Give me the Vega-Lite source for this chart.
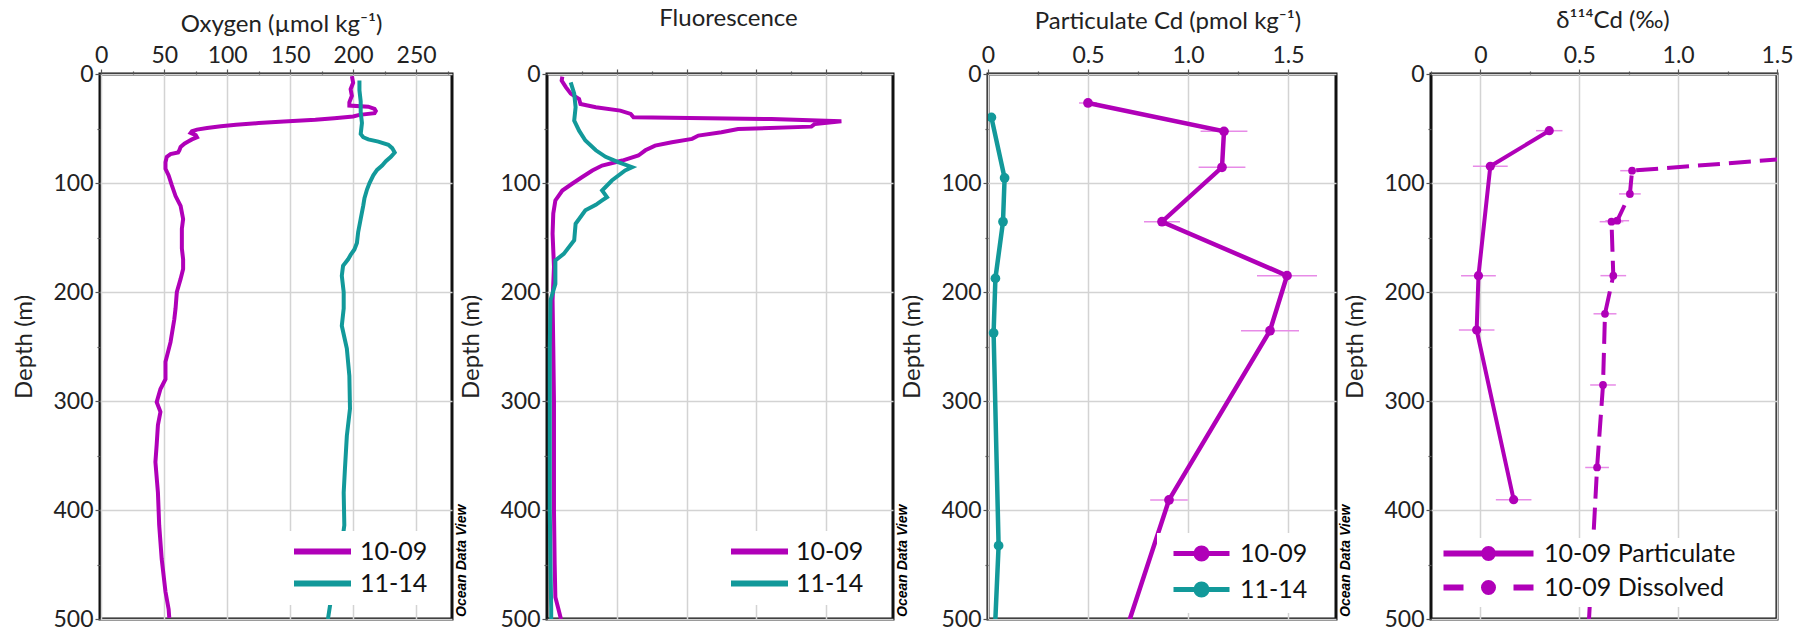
{
  "$schema": "https://vega.github.io/schema/vega-lite/v6.json",
  "background": "white",
  "padding": {"left": 11, "top": 4, "right": 0, "bottom": 0},
  "datasets": {
    "oxy": [
      {"cast": "10-09", "depth": 2, "o2": 199}, {"cast": "10-09", "depth": 8, "o2": 200}, {"cast": "10-09", "depth": 14, "o2": 198}, {"cast": "10-09", "depth": 20, "o2": 199}, {"cast": "10-09", "depth": 26, "o2": 197}, {"cast": "10-09", "depth": 29, "o2": 197}, {"cast": "10-09", "depth": 30, "o2": 212}, {"cast": "10-09", "depth": 32, "o2": 217}, {"cast": "10-09", "depth": 34, "o2": 218}, {"cast": "10-09", "depth": 36, "o2": 217}, {"cast": "10-09", "depth": 37.5, "o2": 205}, {"cast": "10-09", "depth": 39, "o2": 200}, {"cast": "10-09", "depth": 40.5, "o2": 185}, {"cast": "10-09", "depth": 42, "o2": 170}, {"cast": "10-09", "depth": 43.5, "o2": 145}, {"cast": "10-09", "depth": 45, "o2": 125}, {"cast": "10-09", "depth": 46.5, "o2": 107}, {"cast": "10-09", "depth": 48, "o2": 95}, {"cast": "10-09", "depth": 49.5, "o2": 84}, {"cast": "10-09", "depth": 51, "o2": 76}, {"cast": "10-09", "depth": 52.5, "o2": 72}, {"cast": "10-09", "depth": 54, "o2": 71}, {"cast": "10-09", "depth": 56, "o2": 75}, {"cast": "10-09", "depth": 58, "o2": 76}, {"cast": "10-09", "depth": 60, "o2": 72}, {"cast": "10-09", "depth": 62, "o2": 69}, {"cast": "10-09", "depth": 64, "o2": 66}, {"cast": "10-09", "depth": 67, "o2": 63}, {"cast": "10-09", "depth": 70, "o2": 62}, {"cast": "10-09", "depth": 72, "o2": 61}, {"cast": "10-09", "depth": 73.5, "o2": 55}, {"cast": "10-09", "depth": 76, "o2": 52}, {"cast": "10-09", "depth": 81, "o2": 51}, {"cast": "10-09", "depth": 87, "o2": 51}, {"cast": "10-09", "depth": 93, "o2": 53.5}, {"cast": "10-09", "depth": 102, "o2": 56}, {"cast": "10-09", "depth": 112, "o2": 59}, {"cast": "10-09", "depth": 121, "o2": 63}, {"cast": "10-09", "depth": 133, "o2": 65}, {"cast": "10-09", "depth": 142, "o2": 64}, {"cast": "10-09", "depth": 150, "o2": 64}, {"cast": "10-09", "depth": 160, "o2": 64}, {"cast": "10-09", "depth": 170, "o2": 65}, {"cast": "10-09", "depth": 179, "o2": 65}, {"cast": "10-09", "depth": 188, "o2": 63}, {"cast": "10-09", "depth": 200, "o2": 60}, {"cast": "10-09", "depth": 215, "o2": 59}, {"cast": "10-09", "depth": 225, "o2": 58}, {"cast": "10-09", "depth": 246, "o2": 55}, {"cast": "10-09", "depth": 264, "o2": 51}, {"cast": "10-09", "depth": 280, "o2": 51}, {"cast": "10-09", "depth": 289, "o2": 47}, {"cast": "10-09", "depth": 301, "o2": 44}, {"cast": "10-09", "depth": 310, "o2": 47}, {"cast": "10-09", "depth": 322, "o2": 45}, {"cast": "10-09", "depth": 340, "o2": 44}, {"cast": "10-09", "depth": 356, "o2": 43}, {"cast": "10-09", "depth": 384, "o2": 45}, {"cast": "10-09", "depth": 414, "o2": 46}, {"cast": "10-09", "depth": 445, "o2": 48}, {"cast": "10-09", "depth": 475, "o2": 51}, {"cast": "10-09", "depth": 491, "o2": 53.5}, {"cast": "10-09", "depth": 499, "o2": 54},
      {"cast": "11-14", "depth": 6, "o2": 205}, {"cast": "11-14", "depth": 15, "o2": 205}, {"cast": "11-14", "depth": 25, "o2": 206}, {"cast": "11-14", "depth": 35, "o2": 206}, {"cast": "11-14", "depth": 45, "o2": 207}, {"cast": "11-14", "depth": 55, "o2": 206}, {"cast": "11-14", "depth": 58, "o2": 208}, {"cast": "11-14", "depth": 60, "o2": 212}, {"cast": "11-14", "depth": 62, "o2": 220}, {"cast": "11-14", "depth": 65, "o2": 228}, {"cast": "11-14", "depth": 68, "o2": 231}, {"cast": "11-14", "depth": 72, "o2": 233}, {"cast": "11-14", "depth": 76, "o2": 230}, {"cast": "11-14", "depth": 80, "o2": 226}, {"cast": "11-14", "depth": 84, "o2": 223}, {"cast": "11-14", "depth": 88, "o2": 219}, {"cast": "11-14", "depth": 93, "o2": 216}, {"cast": "11-14", "depth": 100, "o2": 213}, {"cast": "11-14", "depth": 106, "o2": 211}, {"cast": "11-14", "depth": 114, "o2": 209}, {"cast": "11-14", "depth": 121, "o2": 208}, {"cast": "11-14", "depth": 133, "o2": 206}, {"cast": "11-14", "depth": 145, "o2": 204}, {"cast": "11-14", "depth": 155, "o2": 203}, {"cast": "11-14", "depth": 161, "o2": 201}, {"cast": "11-14", "depth": 166, "o2": 198}, {"cast": "11-14", "depth": 170, "o2": 196}, {"cast": "11-14", "depth": 176, "o2": 192}, {"cast": "11-14", "depth": 185, "o2": 191}, {"cast": "11-14", "depth": 200, "o2": 192.5}, {"cast": "11-14", "depth": 215, "o2": 192.5}, {"cast": "11-14", "depth": 231, "o2": 191}, {"cast": "11-14", "depth": 252, "o2": 195}, {"cast": "11-14", "depth": 277, "o2": 197}, {"cast": "11-14", "depth": 307, "o2": 197.5}, {"cast": "11-14", "depth": 332, "o2": 195}, {"cast": "11-14", "depth": 362, "o2": 193.5}, {"cast": "11-14", "depth": 384, "o2": 192.5}, {"cast": "11-14", "depth": 414, "o2": 193}, {"cast": "11-14", "depth": 440, "o2": 190}, {"cast": "11-14", "depth": 465, "o2": 186}, {"cast": "11-14", "depth": 485, "o2": 182}, {"cast": "11-14", "depth": 500, "o2": 180}
    ],
    "fluo": [
      {"cast": "10-09", "depth": 2.5, "fl": 0.22}, {"cast": "10-09", "depth": 6, "fl": 0.21}, {"cast": "10-09", "depth": 12, "fl": 0.27}, {"cast": "10-09", "depth": 18, "fl": 0.34}, {"cast": "10-09", "depth": 23, "fl": 0.46}, {"cast": "10-09", "depth": 27.5, "fl": 0.48}, {"cast": "10-09", "depth": 30.5, "fl": 0.7}, {"cast": "10-09", "depth": 33.6, "fl": 1.05}, {"cast": "10-09", "depth": 36.6, "fl": 1.2}, {"cast": "10-09", "depth": 39.7, "fl": 1.24}, {"cast": "10-09", "depth": 41.3, "fl": 3.22}, {"cast": "10-09", "depth": 43.4, "fl": 4.22}, {"cast": "10-09", "depth": 45.8, "fl": 3.84}, {"cast": "10-09", "depth": 48.3, "fl": 3.79}, {"cast": "10-09", "depth": 50.5, "fl": 2.74}, {"cast": "10-09", "depth": 53.5, "fl": 2.5}, {"cast": "10-09", "depth": 56.5, "fl": 2.17}, {"cast": "10-09", "depth": 59.5, "fl": 2.08}, {"cast": "10-09", "depth": 62.6, "fl": 1.79}, {"cast": "10-09", "depth": 65.7, "fl": 1.55}, {"cast": "10-09", "depth": 70, "fl": 1.41}, {"cast": "10-09", "depth": 74.8, "fl": 1.31}, {"cast": "10-09", "depth": 79.4, "fl": 1.08}, {"cast": "10-09", "depth": 84, "fl": 0.79}, {"cast": "10-09", "depth": 88.5, "fl": 0.65}, {"cast": "10-09", "depth": 94.7, "fl": 0.5}, {"cast": "10-09", "depth": 100.7, "fl": 0.36}, {"cast": "10-09", "depth": 106.9, "fl": 0.22}, {"cast": "10-09", "depth": 116, "fl": 0.12}, {"cast": "10-09", "depth": 128, "fl": 0.09}, {"cast": "10-09", "depth": 146.5, "fl": 0.08}, {"cast": "10-09", "depth": 177, "fl": 0.1}, {"cast": "10-09", "depth": 207.6, "fl": 0.08}, {"cast": "10-09", "depth": 250, "fl": 0.09}, {"cast": "10-09", "depth": 300, "fl": 0.1}, {"cast": "10-09", "depth": 350, "fl": 0.1}, {"cast": "10-09", "depth": 400, "fl": 0.1}, {"cast": "10-09", "depth": 450, "fl": 0.11}, {"cast": "10-09", "depth": 480, "fl": 0.12}, {"cast": "10-09", "depth": 490, "fl": 0.16}, {"cast": "10-09", "depth": 500, "fl": 0.2},
      {"cast": "11-14", "depth": 7.7, "fl": 0.34}, {"cast": "11-14", "depth": 18, "fl": 0.39}, {"cast": "11-14", "depth": 30.5, "fl": 0.41}, {"cast": "11-14", "depth": 42.7, "fl": 0.39}, {"cast": "11-14", "depth": 52, "fl": 0.46}, {"cast": "11-14", "depth": 61, "fl": 0.55}, {"cast": "11-14", "depth": 70, "fl": 0.7}, {"cast": "11-14", "depth": 76, "fl": 0.84}, {"cast": "11-14", "depth": 81, "fl": 1.03}, {"cast": "11-14", "depth": 85.5, "fl": 1.22}, {"cast": "11-14", "depth": 88.5, "fl": 1.12}, {"cast": "11-14", "depth": 97.7, "fl": 0.93}, {"cast": "11-14", "depth": 106.9, "fl": 0.79}, {"cast": "11-14", "depth": 113, "fl": 0.86}, {"cast": "11-14", "depth": 116, "fl": 0.79}, {"cast": "11-14", "depth": 120, "fl": 0.7}, {"cast": "11-14", "depth": 125, "fl": 0.55}, {"cast": "11-14", "depth": 137.4, "fl": 0.41}, {"cast": "11-14", "depth": 152.6, "fl": 0.39}, {"cast": "11-14", "depth": 165, "fl": 0.24}, {"cast": "11-14", "depth": 171, "fl": 0.12}, {"cast": "11-14", "depth": 192.6, "fl": 0.12}, {"cast": "11-14", "depth": 207.6, "fl": 0.05}, {"cast": "11-14", "depth": 250, "fl": 0.04}, {"cast": "11-14", "depth": 300, "fl": 0.04}, {"cast": "11-14", "depth": 400, "fl": 0.04}, {"cast": "11-14", "depth": 450, "fl": 0.05}, {"cast": "11-14", "depth": 490, "fl": 0.06}, {"cast": "11-14", "depth": 500, "fl": 0.06}
    ],
    "pcd": [
      {"cast": "10-09", "depth": 26.6, "val": 0.5, "err": 0.045}, {"cast": "10-09", "depth": 52.6, "val": 1.18, "err": 0.117}, {"cast": "10-09", "depth": 85.6, "val": 1.17, "err": 0.117}, {"cast": "10-09", "depth": 135.5, "val": 0.87, "err": 0.09}, {"cast": "10-09", "depth": 185, "val": 1.495, "err": 0.15}, {"cast": "10-09", "depth": 235.5, "val": 1.41, "err": 0.145}, {"cast": "10-09", "depth": 390.8, "val": 0.905, "err": 0.094}, {"cast": "10-09", "depth": 600, "val": 0.53, "err": null},
      {"cast": "11-14", "depth": 39.8, "val": 0.017, "err": null}, {"cast": "11-14", "depth": 95.4, "val": 0.083, "err": null}, {"cast": "11-14", "depth": 135.5, "val": 0.075, "err": null}, {"cast": "11-14", "depth": 187.5, "val": 0.037, "err": null}, {"cast": "11-14", "depth": 237.6, "val": 0.028, "err": null}, {"cast": "11-14", "depth": 432.7, "val": 0.053, "err": null}, {"cast": "11-14", "depth": 600, "val": 0.013, "err": null}
    ],
    "dcd": [
      {"series": "10-09 Particulate", "depth": 52, "val": 0.348, "err": 0.067}, {"series": "10-09 Particulate", "depth": 84.7, "val": 0.05, "err": 0.088}, {"series": "10-09 Particulate", "depth": 185, "val": -0.01, "err": 0.088}, {"series": "10-09 Particulate", "depth": 234.9, "val": -0.019, "err": 0.09}, {"series": "10-09 Particulate", "depth": 390.5, "val": 0.168, "err": 0.09},
      {"series": "10-09 Dissolved", "depth": 52, "val": 3.4, "err": null}, {"series": "10-09 Dissolved", "depth": 88.7, "val": 0.767, "err": 0.06}, {"series": "10-09 Dissolved", "depth": 110, "val": 0.756, "err": 0.055}, {"series": "10-09 Dissolved", "depth": 134.6, "val": 0.692, "err": 0.06}, {"series": "10-09 Dissolved", "depth": 135.5, "val": 0.663, "err": 0.06}, {"series": "10-09 Dissolved", "depth": 185, "val": 0.672, "err": 0.065}, {"series": "10-09 Dissolved", "depth": 220, "val": 0.63, "err": 0.058}, {"series": "10-09 Dissolved", "depth": 285.3, "val": 0.62, "err": 0.065}, {"series": "10-09 Dissolved", "depth": 361, "val": 0.59, "err": 0.06}, {"series": "10-09 Dissolved", "depth": 600, "val": 0.52, "err": null}
    ]
  },
  "bounds": "flush",
  "spacing": 95,
  "resolve": {"scale": {"color": "independent", "x": "independent", "y": "independent"}, "legend": {"color": "independent"}},
  "hconcat": [
    {
      "width": 352, "height": 545,
      "data": {"name": "oxy"},
      "title": {"text": "Ocean Data View", "orient": "right", "anchor": "end", "angle": 270, "align": "left", "baseline": "top", "fontSize": 14, "font": "Liberation Sans", "fontStyle": "italic", "fontWeight": "bold", "color": "black", "offset": 0, "dx": 14, "dy": -11},
      "mark": {"type": "line", "strokeWidth": 4, "clip": true},
      "encoding": {
        "x": {"field": "o2", "type": "quantitative", "scale": {"domain": [-1, 278.5], "nice": false, "zero": false},
          "axis": {"orient": "top", "values": [0, 25, 50, 75, 100, 125, 150, 175, 200, 225, 250, 275],
            "labelExpr": "datum.value % 50 === 0 ? datum.label : ''",
            "tickSize": {"condition": {"test": "datum.value % 50 === 0", "value": 5}, "value": 3},
            "gridOpacity": {"condition": {"test": "datum.value % 50 === 0", "value": 1}, "value": 0},
            "title": "Oxygen (µmol kg⁻¹)", "titleX": 181, "titleY": -43, "titleBaseline": "alphabetic", "titleAlign": "center"}},
        "y": {"field": "depth", "type": "quantitative", "scale": {"domain": [0, 500], "reverse": true, "nice": false, "zero": false},
          "axis": {"values": [0, 50, 100, 150, 200, 250, 300, 350, 400, 450, 500], "labelExpr": "datum.value % 100 === 0 ? datum.label : ''",
            "tickSize": {"condition": {"test": "datum.value % 100 === 0", "value": 5}, "value": 3},
            "gridOpacity": {"condition": {"test": "datum.value % 100 === 0", "value": 1}, "value": 0},
            "title": "Depth (m)", "titleFontSize": 24, "titlePadding": 16}},
        "color": {"field": "cast", "type": "nominal", "scale": {"domain": ["10-09", "11-14"], "range": ["#b000b8", "#12999a"]},
          "legend": {"orient": "none", "legendX": 178, "legendY": 457, "rowPadding": 6, "symbolType": "M-5.7,0L5.7,0", "symbolStrokeWidth": 6, "symbolOffset": 24, "labelOffset": 25,
            "encode": {"symbols": {"update": {"stroke": {"signal": "datum.value === '10-09' ? '#9b42b8' : '#4f9bb3'"}}}}}},
        "order": {"field": "depth", "type": "quantitative"}
      }
    },
    {
      "width": 346, "height": 545,
      "data": {"name": "fluo"},
      "title": {"text": "Ocean Data View", "orient": "right", "anchor": "end", "angle": 270, "align": "left", "baseline": "top", "fontSize": 14, "font": "Liberation Sans", "fontStyle": "italic", "fontWeight": "bold", "color": "black", "offset": 0, "dx": 14, "dy": -11},
      "mark": {"type": "line", "strokeWidth": 4, "clip": true},
      "encoding": {
        "x": {"field": "fl", "type": "quantitative", "scale": {"domain": [0, 4.96], "nice": false, "zero": false},
          "axis": {"orient": "top", "values": [0.5, 1, 1.5, 2, 2.5, 3, 3.5, 4, 4.5],
            "labelExpr": "''",
            "tickSize": {"condition": {"test": "datum.value % 1 === 0", "value": 5}, "value": 3},
            "gridOpacity": {"condition": {"test": "datum.value % 1 === 0", "value": 1}, "value": 0},
            "title": "Fluorescence", "titleX": 181, "titleY": -49, "titleBaseline": "alphabetic", "titleAlign": "center"}},
        "y": {"field": "depth", "type": "quantitative", "scale": {"domain": [0, 500], "reverse": true, "nice": false, "zero": false},
          "axis": {"values": [0, 50, 100, 150, 200, 250, 300, 350, 400, 450, 500], "labelExpr": "datum.value % 100 === 0 ? datum.label : ''",
            "tickSize": {"condition": {"test": "datum.value % 100 === 0", "value": 5}, "value": 3},
            "gridOpacity": {"condition": {"test": "datum.value % 100 === 0", "value": 1}, "value": 0},
            "title": "Depth (m)", "titleFontSize": 24, "titlePadding": 16}},
        "color": {"field": "cast", "type": "nominal", "scale": {"domain": ["10-09", "11-14"], "range": ["#b000b8", "#12999a"]},
          "legend": {"orient": "none", "legendX": 168, "legendY": 457, "rowPadding": 6, "symbolType": "M-5.7,0L5.7,0", "symbolStrokeWidth": 6, "symbolOffset": 24, "labelOffset": 24,
            "encode": {"symbols": {"update": {"stroke": {"signal": "datum.value === '10-09' ? '#9b42b8' : '#4f9bb3'"}}}}}},
        "order": {"field": "depth", "type": "quantitative"}
      }
    },
    {
      "width": 348, "height": 545,
      "data": {"name": "pcd"},
      "title": {"text": "Ocean Data View", "orient": "right", "anchor": "end", "angle": 270, "align": "left", "baseline": "top", "fontSize": 14, "font": "Liberation Sans", "fontStyle": "italic", "fontWeight": "bold", "color": "black", "offset": 0, "dx": 14, "dy": -11},
      "encoding": {
        "x": {"field": "val", "type": "quantitative", "scale": {"domain": [0, 1.74], "nice": false, "zero": false},
          "axis": {"orient": "top", "values": [0, 0.25, 0.5, 0.75, 1, 1.25, 1.5],
            "labelExpr": "datum.value === 0 ? '0' : (datum.value % 0.5 === 0 ? format(datum.value, '.1f') : '')",
            "tickSize": {"condition": {"test": "datum.value % 0.5 === 0", "value": 5}, "value": 3},
            "gridOpacity": {"condition": {"test": "datum.value % 0.5 === 0", "value": 1}, "value": 0},
            "title": "Particulate Cd (pmol kg⁻¹)", "titleX": 179.5, "titleY": -46, "titleBaseline": "alphabetic", "titleAlign": "center"}},
        "y": {"field": "depth", "type": "quantitative", "scale": {"domain": [0, 500], "reverse": true, "nice": false, "zero": false},
          "axis": {"values": [0, 50, 100, 150, 200, 250, 300, 350, 400, 450, 500], "labelExpr": "datum.value % 100 === 0 ? datum.label : ''",
            "tickSize": {"condition": {"test": "datum.value % 100 === 0", "value": 5}, "value": 3},
            "gridOpacity": {"condition": {"test": "datum.value % 100 === 0", "value": 1}, "value": 0},
            "title": "Depth (m)", "titleFontSize": 24, "titlePadding": 16}}
      },
      "layer": [
        {"transform": [{"filter": "isValid(datum.err)"}], "mark": {"type": "errorbar", "color": "#e78be7", "thickness": 1.5}, "encoding": {"xError": {"field": "err"}}},
        {"mark": {"type": "line", "strokeWidth": 4.5, "clip": true},
          "encoding": {
            "color": {"field": "cast", "type": "nominal", "scale": {"domain": ["10-09", "11-14"], "range": ["#b000b8", "#12999a"]},
              "legend": {"orient": "none", "legendX": 169, "legendY": 459, "rowPadding": 5, "symbolType": "M-5.6,0L5.6,0M-1.1,0A1.1,1.1,0,1,1,1.1,0A1.1,1.1,0,1,1,-1.1,0Z", "symbolStrokeWidth": 5, "symbolOffset": 24, "labelOffset": 26,
                "encode": {"symbols": {"update": {"stroke": {"signal": "datum.value === '10-09' ? '#9b42b8' : '#4f9bb3'"}, "fill": {"signal": "datum.value === '10-09' ? '#9b42b8' : '#4f9bb3'"}}}}}},
            "order": {"field": "depth", "type": "quantitative"}
          }},
        {"mark": {"type": "point", "filled": true, "opacity": 1, "size": 95, "clip": true},
          "encoding": {"color": {"field": "cast", "type": "nominal", "legend": null}}}
      ]
    },
    {
      "width": 346, "height": 545,
      "data": {"name": "dcd"},
      "title": {"text": "Ocean Data View", "orient": "right", "anchor": "end", "angle": 270, "align": "left", "baseline": "top", "fontSize": 14, "font": "Liberation Sans", "fontStyle": "italic", "fontWeight": "bold", "color": "black", "offset": 0, "dx": 14, "dy": -11},
      "encoding": {
        "x": {"field": "val", "type": "quantitative", "scale": {"domain": [-0.25, 1.5], "nice": false, "zero": false},
          "axis": {"orient": "top", "values": [-0.25, 0, 0.25, 0.5, 0.75, 1, 1.25, 1.5],
            "labelExpr": "datum.value === 0 ? '0' : (datum.value % 0.5 === 0 ? format(datum.value, '.1f') : '')",
            "tickSize": {"condition": {"test": "datum.value % 0.5 === 0", "value": 5}, "value": 3},
            "gridOpacity": {"condition": {"test": "datum.value % 0.5 === 0", "value": 1}, "value": 0},
            "title": "δ¹¹⁴Cd (‰)", "titleX": 181.5, "titleY": -47, "titleBaseline": "alphabetic", "titleAlign": "center"}},
        "y": {"field": "depth", "type": "quantitative", "scale": {"domain": [0, 500], "reverse": true, "nice": false, "zero": false},
          "axis": {"values": [0, 50, 100, 150, 200, 250, 300, 350, 400, 450, 500], "labelExpr": "datum.value % 100 === 0 ? datum.label : ''",
            "tickSize": {"condition": {"test": "datum.value % 100 === 0", "value": 5}, "value": 3},
            "gridOpacity": {"condition": {"test": "datum.value % 100 === 0", "value": 1}, "value": 0},
            "title": "Depth (m)", "titleFontSize": 24, "titlePadding": 16}}
      },
      "layer": [
        {"transform": [{"filter": "isValid(datum.err)"}], "mark": {"type": "errorbar", "color": "#e78be7", "thickness": 1.5}, "encoding": {"xError": {"field": "err"}}},
        {"transform": [{"filter": "datum.series === '10-09 Particulate'"}],
          "mark": {"type": "line", "strokeWidth": 4, "clip": true},
          "encoding": {
            "color": {"field": "series", "type": "nominal", "scale": {"domain": ["10-09 Particulate", "10-09 Dissolved"], "range": ["#b000b8", "#b000b8"]},
              "legend": {"orient": "none", "legendX": 2, "legendY": 464, "padding": 3, "rowPadding": 1, "labelLimit": 400, "symbolType": "M-9,0L9,0", "symbolStrokeWidth": 6, "symbolOffset": 40, "labelOffset": 43,
                "encode": {"symbols": {"update": {
                  "stroke": {"value": "#9b42b8"}, "fill": {"value": "#9b42b8"},
                  "shape": {"signal": "datum.value === '10-09 Particulate' ? 'M-9,0L9,0M-0.9,0A0.9,0.9,0,1,1,0.9,0A0.9,0.9,0,1,1,-0.9,0Z' : 'M-9,0L-5,0M5,0L9,0M-0.9,0A0.9,0.9,0,1,1,0.9,0A0.9,0.9,0,1,1,-0.9,0Z'"}}}}}},
            "order": {"field": "depth", "type": "quantitative"}
          }},
        {"transform": [{"filter": "datum.series === '10-09 Dissolved'"}],
          "mark": {"type": "line", "strokeWidth": 4, "strokeDash": [22, 9], "clip": true},
          "encoding": {"color": {"field": "series", "type": "nominal", "legend": null}, "order": {"field": "depth", "type": "quantitative"}}},
        {"transform": [{"filter": "datum.series === '10-09 Particulate'"}],
          "mark": {"type": "point", "filled": true, "opacity": 1, "size": 85, "clip": true},
          "encoding": {"color": {"field": "series", "type": "nominal", "legend": null}}},
        {"transform": [{"filter": "datum.series === '10-09 Dissolved'"}],
          "mark": {"type": "point", "filled": true, "opacity": 1, "size": 60, "clip": true},
          "encoding": {"color": {"field": "series", "type": "nominal", "legend": null}}}
      ]
    }
  ],
  "config": {
    "font": "Lato",
    "view": {"stroke": "#111111", "strokeWidth": 3},
    "axis": {"labelFontSize": 23, "titleFontSize": 24, "titleFontWeight": "normal", "labelColor": "#222222", "titleColor": "#222222",
      "gridColor": "#d3d3d3", "gridWidth": 1.5, "tickColor": "#555555", "tickWidth": 1.2, "domain": false, "labelPadding": 2, "labelFlush": false, "labelOverlap": false},
    "legend": {"title": null, "fillColor": "white", "padding": 8, "labelFontSize": 25, "labelLimit": 400, "labelColor": "#111111", "symbolSize": 100, "rowPadding": 12}
  }
}
